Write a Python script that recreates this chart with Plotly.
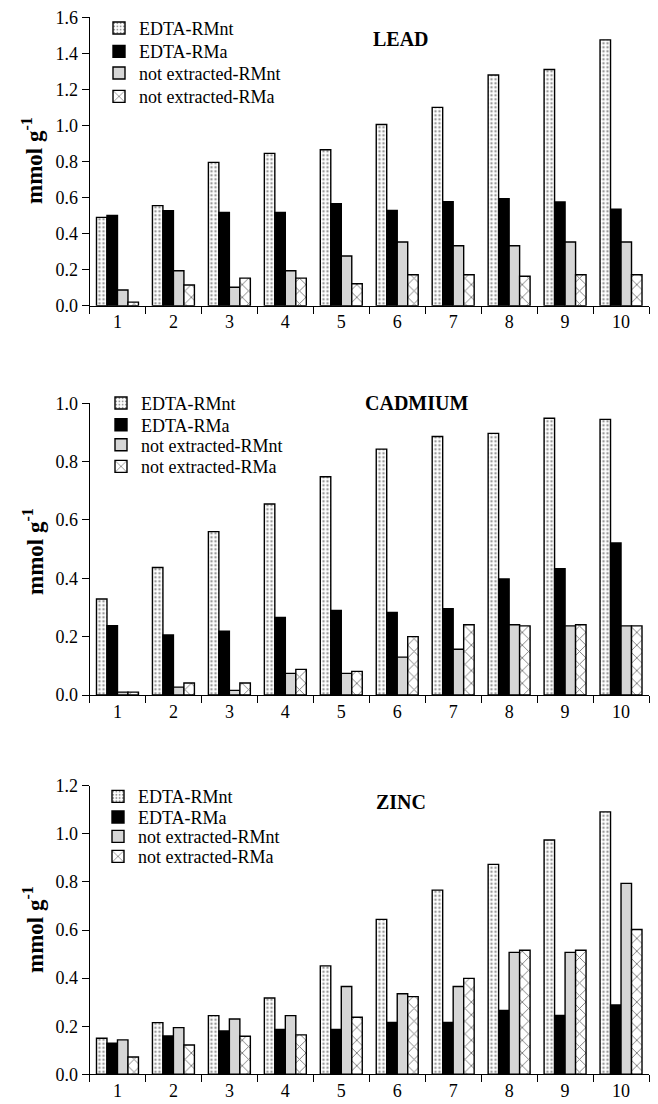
import plotly.graph_objects as go

# page body has an 8px default margin; figure is sized so that it fills the window
OFF = 8
W, H = 658 - OFF, 1104 - OFF

categories = ["1", "2", "3", "4", "5", "6", "7", "8", "9", "10"]
series_names = ["EDTA-RMnt", "EDTA-RMa", "not extracted-RMnt", "not extracted-RMa"]

lead_edta_rmnt = [0.49, 0.555, 0.795, 0.845, 0.865, 1.005, 1.10, 1.28, 1.31, 1.475]
lead_edta_rma = [0.50, 0.527, 0.518, 0.518, 0.566, 0.529, 0.577, 0.594, 0.575, 0.536]
lead_notext_rmnt = [0.087, 0.194, 0.102, 0.194, 0.276, 0.353, 0.333, 0.333, 0.353, 0.353]
lead_notext_rma = [0.020, 0.115, 0.153, 0.153, 0.122, 0.172, 0.172, 0.163, 0.172, 0.172]

cd_edta_rmnt = [0.329, 0.437, 0.56, 0.655, 0.748, 0.843, 0.886, 0.897, 0.949, 0.945]
cd_edta_rma = [0.238, 0.206, 0.219, 0.266, 0.290, 0.283, 0.296, 0.398, 0.433, 0.521]
cd_notext_rmnt = [0.010, 0.027, 0.016, 0.074, 0.074, 0.130, 0.157, 0.241, 0.237, 0.237]
cd_notext_rma = [0.010, 0.041, 0.041, 0.088, 0.081, 0.200, 0.241, 0.237, 0.241, 0.237]

zn_edta_rmnt = [0.150, 0.215, 0.244, 0.317, 0.451, 0.644, 0.766, 0.873, 0.974, 1.091]
zn_edta_rma = [0.129, 0.159, 0.180, 0.187, 0.187, 0.216, 0.216, 0.266, 0.245, 0.288]
zn_notext_rmnt = [0.143, 0.194, 0.230, 0.244, 0.365, 0.335, 0.365, 0.507, 0.507, 0.794]
zn_notext_rma = [0.072, 0.122, 0.158, 0.164, 0.237, 0.323, 0.399, 0.516, 0.516, 0.602]

panel_titles = ["LEAD", "CADMIUM", "ZINC"]
y_max = [1.6, 1.0, 1.2]
y_title = "mmol g<sup>-1</sup>"

panels = [
    [lead_edta_rmnt, lead_edta_rma, lead_notext_rmnt, lead_notext_rma],
    [cd_edta_rmnt, cd_edta_rma, cd_notext_rmnt, cd_notext_rma],
    [zn_edta_rmnt, zn_edta_rma, zn_notext_rmnt, zn_notext_rma],
]

FONT = "Liberation Serif, Times New Roman, serif"

styles = [
    dict(color="white", line=dict(color="black", width=1.4),
         pattern=dict(shape=".", fgcolor="#333333", bgcolor="white", size=4, solidity=0.3)),
    dict(color="black", line=dict(color="black", width=1.4)),
    dict(color="#d6d6d6", line=dict(color="black", width=1.4)),
    dict(color="white", line=dict(color="black", width=1.4),
         pattern=dict(shape="x", fgcolor="black", bgcolor="white", size=9, solidity=0.2)),
]

# screen-pixel geometry -> paper coordinates
def px_x(sx):
    return (sx - OFF) / W

def py(sy):
    return 1 - (sy - OFF) / H

x_dom = [px_x(89.5), px_x(649)]
y_doms = [(17.3, 305.7), (403.3, 695.0), (785.7, 1074.3)]
title_pos = [(401, 39), (416, 403), (401, 802)]
ytitle_pos = [(33, 161), (33, 552), (33, 930)]
legend_x = [99, 101, 98]
legend_rows = [
    [28.3, 51.7, 73.3, 96.7],
    [403.3, 425.0, 445.0, 466.7],
    [796.7, 817.3, 836.7, 856.7],
]
ROW_OFFSET = 18.5

fig = go.Figure()

layout = dict(
    width=W, height=H,
    margin=dict(l=0, r=0, t=0, b=0, autoexpand=False),
    paper_bgcolor="white", plot_bgcolor="white",
    barmode="group", bargap=0.25, bargroupgap=0,
    font=dict(family=FONT, size=18, color="black"),
    showlegend=True,
)

k = 0
for i, vals in enumerate(panels):
    suffix = "" if i == 0 else str(i + 1)
    for j, (name, v, st) in enumerate(zip(series_names, vals, styles)):
        k += 1
        lid = "legend" if k == 1 else "legend%d" % k
        fig.add_trace(go.Bar(
            x=categories, y=v, name=name, marker=st,
            xaxis="x" + suffix, yaxis="y" + suffix,
            legend=lid, showlegend=True,
        ))
        layout[lid] = dict(
            x=px_x(legend_x[i]), y=py(legend_rows[i][j] - ROW_OFFSET),
            xanchor="left", yanchor="top",
            bgcolor="rgba(0,0,0,0)", borderwidth=0, tracegroupgap=0,
            font=dict(family=FONT, size=18, color="black"),
        )

for i in range(3):
    suffix = "" if i == 0 else str(i + 1)
    top, bot = y_doms[i]
    layout["xaxis" + suffix] = dict(
        domain=x_dom, anchor="y" + suffix, type="category", automargin=False,
        showline=True, linecolor="black", linewidth=1,
        ticks="outside", ticklen=7, tickcolor="black", tickson="boundaries",
        showgrid=False, zeroline=False, ticklabeloverflow="allow",
        tickfont=dict(family=FONT, size=18, color="black"),
    )
    layout["yaxis" + suffix] = dict(
        domain=[py(bot), py(top)], anchor="x" + suffix, automargin=False,
        range=[0, y_max[i]], dtick=0.2, tickformat=".1f",
        showline=True, linecolor="black", linewidth=1,
        ticks="outside", ticklen=7, tickcolor="black",
        showgrid=False, zeroline=False, ticklabeloverflow="allow",
        tickfont=dict(family=FONT, size=18, color="black"),
    )

annotations = []
for i in range(3):
    tx, ty = title_pos[i]
    annotations.append(dict(
        text="<b>%s</b>" % panel_titles[i], x=px_x(tx), y=py(ty),
        xref="paper", yref="paper", xanchor="center", yanchor="middle",
        showarrow=False, font=dict(family=FONT, size=20, color="black"),
    ))
    ax, ay = ytitle_pos[i]
    annotations.append(dict(
        text="<b>%s</b>" % y_title, x=px_x(ax), y=py(ay),
        xref="paper", yref="paper", xanchor="center", yanchor="middle",
        textangle=-90, showarrow=False,
        font=dict(family=FONT, size=23, color="black"),
    ))
layout["annotations"] = annotations

fig.update_layout(**layout)
fig.write_html("out.html")
